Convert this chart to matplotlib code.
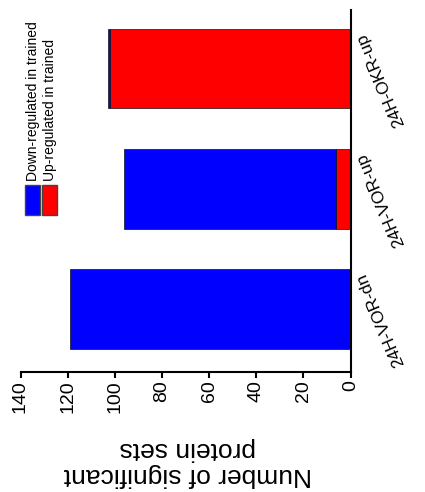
import matplotlib
matplotlib.use("Agg")
import matplotlib.pyplot as plt
from matplotlib.patches import Rectangle
from matplotlib.transforms import blended_transform_factory

plt.rcParams['font.family'] = ['Liberation Sans', 'DejaVu Sans']

categories = ["24H-VOR-dn", "24H-VOR-up", "24H-OKR-up"]
up_regulated = [0, 6, 102]
down_regulated = [119, 90, 1]
series_names = ["Down-regulated in trained", "Up-regulated in trained"]
value_ticks = [0, 20, 40, 60, 80, 100, 120, 140]
axis_title = "Number of significant\nprotein sets"

W, H = 425, 492
fig = plt.figure(figsize=(W / 100, H / 100), dpi=100)
ax = fig.add_axes([20.5 / W, 1 - 372 / H, 330 / W, 362 / H])

pos = list(range(len(categories)))
ax.barh(pos, up_regulated, height=0.66, color="#ff0000", edgecolor="#111111", linewidth=0.5)
ax.barh(pos, down_regulated, left=up_regulated, height=0.66, color="#0000ff",
        edgecolor="#111111", linewidth=0.5)

ax.set_xlim(140, 0)
ax.set_ylim(-0.525, 2.49)
ax.set_xticks(value_ticks)
ax.set_xticklabels([str(v) for v in value_ticks], rotation=90, fontsize=14)
ax.tick_params(axis="x", length=4, width=1.5, pad=2, direction="out")
ax.set_yticks([])

for side in ("top", "left"):
    ax.spines[side].set_visible(False)
for side in ("bottom", "right"):
    ax.spines[side].set_linewidth(1.5)

# category labels beside the right-hand axis
tr = blended_transform_factory(ax.transAxes, ax.transData)
for p, name in zip(pos, categories):
    ax.text(1.09, p - 0.09, name, transform=tr, rotation=113, ha="center",
            va="center", fontsize=12.5, clip_on=False)

# value-axis title, turned upside down
fig.text(188 / W, 1 - 462 / H, axis_title, rotation=180, ha="center", va="center",
         fontsize=19, multialignment="center", linespacing=1.15)

# legend key
key_colors = ["#0000ff", "#ff0000"]
key_x = [25, 42]
for name, c, x in zip(series_names, key_colors, key_x):
    fig.patches.append(Rectangle((x / W, 1 - 215 / H), 14.5 / W, 30 / H,
                                 transform=fig.transFigure, facecolor=c,
                                 edgecolor="#444444", linewidth=1))
    fig.text((x + 8) / W, 1 - 181 / H, name, rotation=90, ha="center", va="bottom",
             fontsize=10)

fig.savefig("out.png", dpi=100)
